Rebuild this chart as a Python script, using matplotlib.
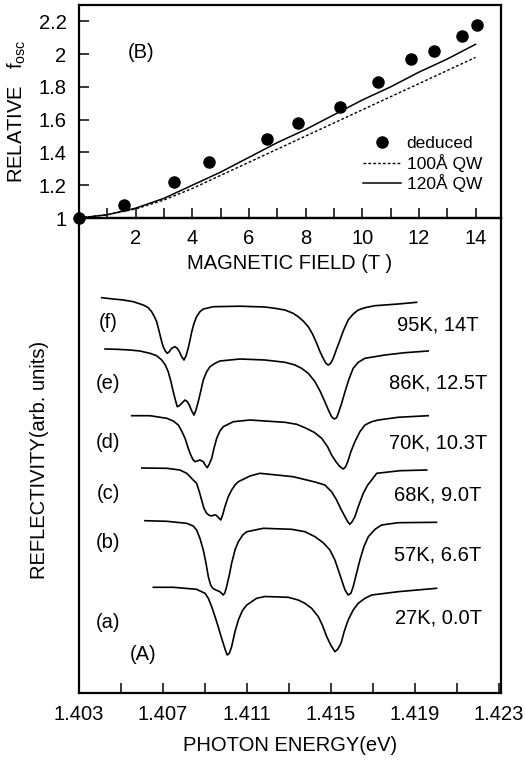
import matplotlib
matplotlib.use("Agg")
import matplotlib.pyplot as plt
from matplotlib.ticker import FixedLocator

plt.rcParams["font.family"] = ["Liberation Sans", "DejaVu Sans"]
plt.rcParams["mathtext.default"] = "regular"

# (B) relative oscillator strength vs magnetic field
field_deduced = [0.0, 1.6, 3.37, 4.58, 6.64, 7.73, 9.2, 10.57, 11.72, 12.52, 13.53, 14.04]
fosc_deduced = [1.0, 1.08, 1.22, 1.34, 1.48, 1.58, 1.68, 1.83, 1.97, 2.02, 2.11, 2.18]
field_calc = [0, 1, 2, 3, 4, 5, 6, 7, 8, 9, 10, 11, 12, 13, 14]
fosc_100A = [1.0, 1.02, 1.055, 1.11, 1.18, 1.26, 1.34, 1.42, 1.50, 1.58, 1.66, 1.74, 1.82, 1.90, 1.98]
fosc_120A = [1.0, 1.02, 1.06, 1.12, 1.20, 1.28, 1.37, 1.46, 1.54, 1.63, 1.72, 1.80, 1.89, 1.97, 2.06]

# (A) reflectivity spectra (arb. units, offset) vs photon energy (eV)
e_f = [1.40408, 1.40463, 1.40511, 1.40559, 1.40606, 1.40630, 1.40646, 1.40659, 1.40670, 1.40678,
       1.40686, 1.40694, 1.40701, 1.40711, 1.40720, 1.40730, 1.40741, 1.40757, 1.40768, 1.40778,
       1.40789, 1.40800, 1.40810, 1.40820, 1.40829, 1.40837, 1.40848, 1.40860, 1.40876, 1.40892,
       1.40940, 1.41067, 1.41186, 1.41233, 1.41281, 1.41320, 1.41344, 1.41368, 1.41392, 1.41413,
       1.41432, 1.41448, 1.41463, 1.41476, 1.41487, 1.41499, 1.41511, 1.41527, 1.41543, 1.41562,
       1.41582, 1.41606, 1.41630, 1.41662, 1.41710, 1.41820, 1.41908]
r_f = [3.953, 3.94, 3.93, 3.913, 3.88, 3.853, 3.813, 3.763, 3.713, 3.647,
       3.58, 3.513, 3.463, 3.42, 3.397, 3.413, 3.447, 3.463, 3.447, 3.413,
       3.363, 3.33, 3.373, 3.447, 3.53, 3.613, 3.697, 3.763, 3.813, 3.84,
       3.863, 3.868, 3.86, 3.847, 3.83, 3.797, 3.763, 3.72, 3.663, 3.587,
       3.497, 3.413, 3.347, 3.297, 3.28, 3.297, 3.347, 3.44, 3.53, 3.637,
       3.73, 3.79, 3.83, 3.853, 3.873, 3.89, 3.907]

e_e = [1.40424, 1.40480, 1.40543, 1.40590, 1.40638, 1.40670, 1.40694, 1.40711, 1.40725, 1.40738,
       1.40749, 1.40759, 1.40768, 1.40778, 1.40789, 1.40805, 1.40816, 1.40825, 1.40837, 1.40848,
       1.40857, 1.40868, 1.40880, 1.40892, 1.40908, 1.40924, 1.40948, 1.40971, 1.41067, 1.41186,
       1.41281, 1.41329, 1.41360, 1.41392, 1.41424, 1.41448, 1.41471, 1.41490, 1.41503, 1.41516,
       1.41527, 1.41535, 1.41551, 1.41567, 1.41586, 1.41606, 1.41630, 1.41662, 1.41757, 1.41852,
       1.41963]
r_e = [3.44, 3.437, 3.43, 3.42, 3.397, 3.373, 3.33, 3.28, 3.213, 3.113,
       3.013, 2.93, 2.863, 2.873, 2.897, 2.93, 2.913, 2.88, 2.82, 2.78,
       2.83, 2.913, 3.02, 3.13, 3.213, 3.263, 3.297, 3.32, 3.34, 3.33,
       3.307, 3.28, 3.247, 3.197, 3.113, 3.02, 2.913, 2.82, 2.763, 2.74,
       2.753, 2.797, 2.897, 3.013, 3.14, 3.247, 3.307, 3.347, 3.38, 3.403,
       3.42]

e_d = [1.40551, 1.40638, 1.40718, 1.40749, 1.40773, 1.40789, 1.40805, 1.40818, 1.40829, 1.40841,
       1.40852, 1.40863, 1.40876, 1.40892, 1.40901, 1.40911, 1.40920, 1.40932, 1.40943, 1.40956,
       1.40971, 1.40987, 1.41035, 1.41114, 1.41186, 1.41281, 1.41337, 1.41376, 1.41420, 1.41456,
       1.41484, 1.41503, 1.41524, 1.41543, 1.41559, 1.41570, 1.41580, 1.41595, 1.41614, 1.41638,
       1.41662, 1.41694, 1.41725, 1.41820, 1.41963]
r_d = [2.773, 2.773, 2.747, 2.72, 2.68, 2.62, 2.547, 2.463, 2.397, 2.34,
       2.313, 2.32, 2.33, 2.313, 2.28, 2.253, 2.287, 2.347, 2.447, 2.547,
       2.62, 2.663, 2.713, 2.73, 2.72, 2.707, 2.687, 2.653, 2.607, 2.547,
       2.463, 2.38, 2.313, 2.263, 2.24, 2.263, 2.313, 2.413, 2.513, 2.613,
       2.68, 2.713, 2.73, 2.757, 2.773]

e_c = [1.40599, 1.40718, 1.40781, 1.40813, 1.40844, 1.40860, 1.40873, 1.40884, 1.40895, 1.40908,
       1.40920, 1.40932, 1.40943, 1.40952, 1.40963, 1.40975, 1.40984, 1.40995, 1.41011, 1.41027,
       1.41043, 1.41059, 1.41114, 1.41162, 1.41320, 1.41424, 1.41471, 1.41503, 1.41527, 1.41548,
       1.41567, 1.41580, 1.41590, 1.41601, 1.41614, 1.41633, 1.41654, 1.41675, 1.41694, 1.41718,
       1.41829, 1.41956]
r_c = [2.25, 2.247, 2.23, 2.197, 2.13, 2.097, 2.013, 1.93, 1.847, 1.797,
       1.777, 1.77, 1.78, 1.78, 1.757, 1.73, 1.78, 1.863, 1.963, 2.03,
       2.08, 2.113, 2.17, 2.197, 2.163, 2.11, 2.08, 2.013, 1.93, 1.837,
       1.763, 1.713, 1.687, 1.713, 1.763, 1.88, 1.997, 2.08, 2.13, 2.197,
       2.223, 2.23]

e_b = [1.40614, 1.40718, 1.40813, 1.40844, 1.40860, 1.40876, 1.40892, 1.40905, 1.40916, 1.40927,
       1.40937, 1.40952, 1.40971, 1.40987, 1.40995, 1.41003, 1.41016, 1.41027, 1.41043, 1.41059,
       1.41080, 1.41099, 1.41178, 1.41313, 1.41376, 1.41424, 1.41463, 1.41495, 1.41519, 1.41535,
       1.41551, 1.41567, 1.41582, 1.41595, 1.41606, 1.41622, 1.41638, 1.41657, 1.41678, 1.41710,
       1.41741, 1.41820, 1.42003]
r_b = [1.723, 1.717, 1.697, 1.67, 1.63, 1.547, 1.43, 1.297, 1.163, 1.08,
       1.047, 1.03, 1.013, 0.98, 1.003, 1.063, 1.18, 1.297, 1.43, 1.513,
       1.58, 1.613, 1.647, 1.637, 1.613, 1.563, 1.503, 1.43, 1.33, 1.23,
       1.13, 1.03, 0.98, 0.997, 1.063, 1.197, 1.33, 1.463, 1.563, 1.637,
       1.68, 1.703, 1.707]

e_a = [1.40654, 1.40749, 1.40860, 1.40900, 1.40916, 1.40932, 1.40948, 1.40963, 1.40976, 1.40987,
       1.40997, 1.41006, 1.41016, 1.41027, 1.41043, 1.41059, 1.41078, 1.41099, 1.41146, 1.41186,
       1.41297, 1.41344, 1.41376, 1.41408, 1.41440, 1.41459, 1.41480, 1.41499, 1.41519, 1.41532,
       1.41548, 1.41563, 1.41582, 1.41606, 1.41630, 1.41662, 1.41694, 1.41820, 1.42003]
r_a = [1.057, 1.057, 1.037, 0.997, 0.947, 0.863, 0.763, 0.663, 0.57, 0.497,
       0.43, 0.38, 0.397, 0.463, 0.613, 0.73, 0.823, 0.88, 0.947, 0.965,
       0.957, 0.93, 0.897, 0.847, 0.763, 0.68, 0.563, 0.48, 0.413, 0.437,
       0.497, 0.613, 0.73, 0.83, 0.897, 0.947, 0.98, 1.013, 1.047]

left_tags = ["(f)", "(e)", "(d)", "(c)", "(b)", "(a)"]
left_tag_y = [3.71, 3.10, 2.51, 2.00, 1.50, 0.71]
right_tags = ["95K, 14T", "86K, 12.5T", "70K, 10.3T", "68K, 9.0T", "57K, 6.6T", "27K, 0.0T"]
right_tag_y = [3.68, 3.10, 2.50, 1.98, 1.38, 0.75]

FS = 14.5


def style_spines(ax):
    for s in ax.spines.values():
        s.set_linewidth(1.6)


def main():
    fig = plt.figure(figsize=(5.25, 7.62), dpi=100)
    axA = fig.add_axes([79 / 525, 1 - 693 / 762, 422 / 525, 475 / 762])
    axB = fig.add_axes([79 / 525, 1 - 218 / 762, 422 / 525, 213 / 762])
    axB.set_zorder(2)
    axB.patch.set_alpha(0)

    # ---- panel B ----
    axB.plot(field_deduced, fosc_deduced, "o", color="black", ms=8, clip_on=False,
             label="deduced", zorder=5)
    axB.plot(field_calc, fosc_100A, color="black", lw=1.0, ls=(0, (2, 1.5)), label="100Å QW")
    axB.plot(field_calc, fosc_120A, color="black", lw=1.1, label="120Å QW")
    axB.set_xlim(0, 14.9)
    axB.set_ylim(1, 2.3)
    axB.xaxis.set_major_locator(FixedLocator([2, 4, 6, 8, 10, 12, 14]))
    axB.xaxis.set_minor_locator(FixedLocator([1, 3, 5, 7, 9, 11, 13]))
    axB.yaxis.set_major_locator(FixedLocator([1, 1.2, 1.4, 1.6, 1.8, 2, 2.2]))
    axB.set_yticklabels(["1", "1.2", "1.4", "1.6", "1.8", "2", "2.2"])
    axB.tick_params(which="both", direction="in", length=7, width=1.1, labelsize=FS, pad=8)
    axB.tick_params(axis="y", pad=9)
    axB.set_xlabel("MAGNETIC FIELD (T )", fontsize=FS, labelpad=4)
    axB.set_ylabel("RELATIVE   f$_{osc}$", fontsize=FS)
    axB.yaxis.set_label_coords(-0.12, 0.5)
    axB.text(2.2, 2.01, "(B)", fontsize=FS, ha="center", va="center")
    axB.legend(loc="lower right", bbox_to_anchor=(0.955, 0.12), frameon=False,
               fontsize=12.5, handlelength=2.2, handletextpad=0.3, labelspacing=0.16,
               borderpad=0, borderaxespad=0)
    style_spines(axB)

    # ---- panel A ----
    for e, r in [(e_f, r_f), (e_e, r_e), (e_d, r_d), (e_c, r_c), (e_b, r_b), (e_a, r_a)]:
        axA.plot(e, r, color="black", lw=1.2)
    for tag, y in zip(left_tags, left_tag_y):
        axA.text(1.40438, y, tag, fontsize=FS, ha="center", va="center")
    for tag, y in zip(right_tags, right_tag_y):
        axA.text(1.42010, y, tag, fontsize=FS, ha="center", va="center")
    axA.text(1.40605, 0.38, "(A)", fontsize=FS, ha="center", va="center")
    axA.set_xlim(1.403, 1.4231)
    axA.set_ylim(0, 4.75)
    axA.xaxis.set_major_locator(FixedLocator([1.403, 1.407, 1.411, 1.415, 1.419, 1.423]))
    axA.xaxis.set_minor_locator(FixedLocator([1.405, 1.409, 1.413, 1.417, 1.421]))
    axA.set_xticklabels(["1.403", "1.407", "1.411", "1.415", "1.419", "1.423"])
    axA.set_yticks([])
    axA.tick_params(which="both", direction="in", length=7, width=1.1, labelsize=FS, pad=9)
    axA.set_xlabel("PHOTON ENERGY(eV)", fontsize=FS, labelpad=8)
    axA.set_ylabel("REFLECTIVITY(arb. units)", fontsize=FS)
    axA.yaxis.set_label_coords(-0.07, 0.49)
    style_spines(axA)

    fig.savefig("out.png", dpi=100)


if __name__ == "__main__":
    main()
